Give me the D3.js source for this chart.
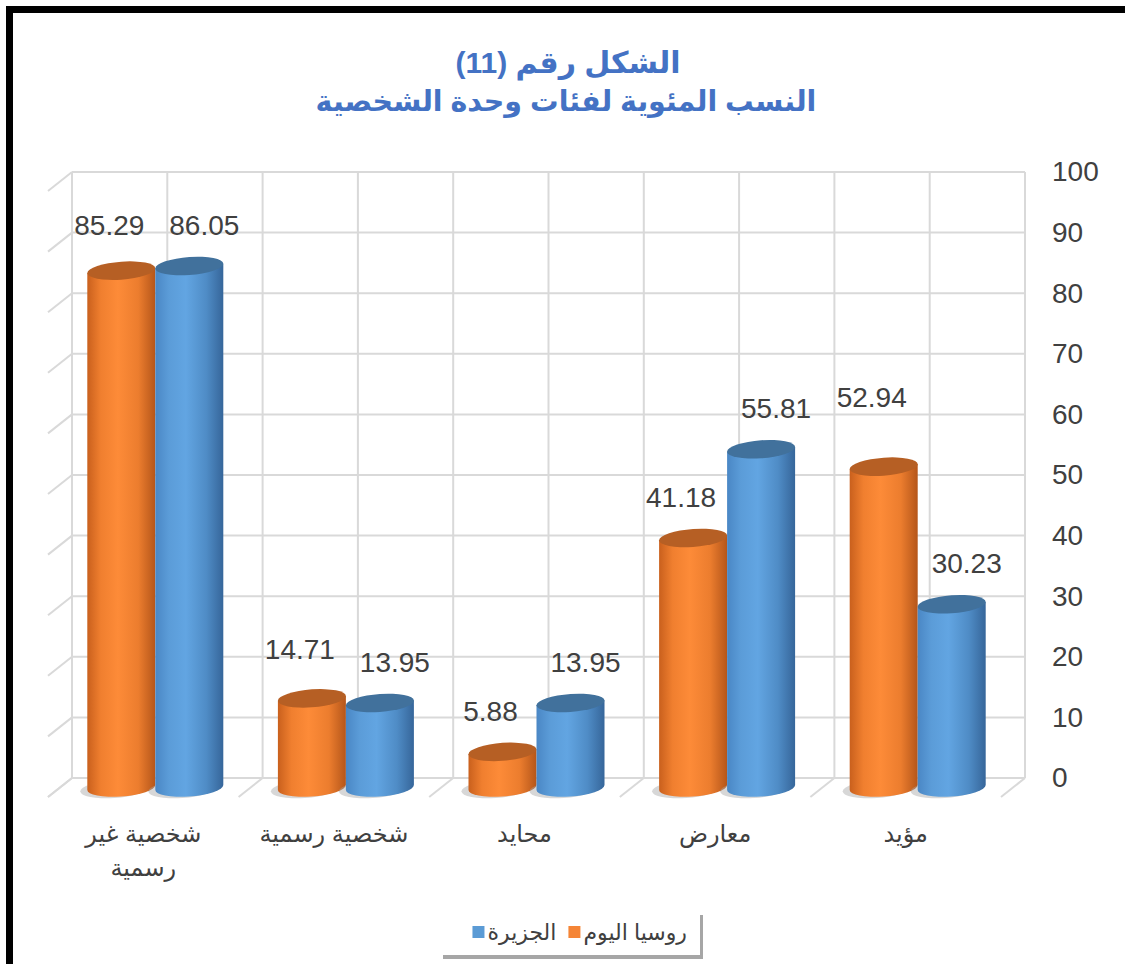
<!DOCTYPE html>
<html>
<head>
<meta charset="utf-8">
<title>الشكل رقم (11)</title>
<script src="https://cdn.jsdelivr.net/npm/d3@7/dist/d3.min.js"></script>
<style>
  body { margin:0; background:#fff; }
  text { font-family: "Liberation Sans", Arial, "DejaVu Sans", sans-serif; }
</style>
</head>
<body>
<script>
// data
var categories = ["مؤيد", "معارض", "محايد", "شخصية رسمية", "شخصية غير رسمية"]
var seriesNames = ["روسيا اليوم", "الجزيرة"]
var rtValues = [52.94, 41.18, 5.88, 14.71, 85.29]   // روسيا اليوم
var jzValues = [30.23, 55.81, 13.95, 13.95, 86.05]  // الجزيرة
var yTicks = [0, 10, 20, 30, 40, 50, 60, 70, 80, 90, 100]

var colors = [
  {name: "orange", side: ["#c9601d", "#f07f2f", "#fd8b38", "#ec7d2e", "#b5561a"], top: "#b65f24", key: "#f58536"},
  {name: "blue", side: ["#4a87c5", "#5b9cd8", "#62a5e2", "#4f8cc6", "#36669a"], top: "#41719c", key: "#5b9bd5"}
]
// extra lift for a few value labels (px), to match where the original put them
var labelLift = [[29, 0], [0, 0], [0, 0], [8, 0], [5, 0]]

var W = 1125, H = 964
var svg = d3.select("body").append("svg").attr("width", W).attr("height", H)

// gradients for the cylinders
var defs = svg.append("defs")
colors.forEach(function(c){
  var g = defs.append("linearGradient").attr("id", "g_" + c.name)
    .attr("x1", "0").attr("x2", "1").attr("y1", "0").attr("y2", "0")
  var offs = [0, 0.2, 0.45, 0.75, 1]
  c.side.forEach(function(col, i){
    g.append("stop").attr("offset", offs[i]).attr("stop-color", col)
  })
})

// back wall geometry and the depth vector of the 3d box
var backL = 72, backR = 1025
var depthX = -24, depthY = 19

var x = d3.scaleBand().domain(categories.slice().reverse()).range([backL, backR])
var y = d3.scaleLinear().domain([0, 100]).range([778, 172])
var bw = x.bandwidth()

var grid = svg.append("g").attr("stroke", "#d9d9d9").attr("stroke-width", 2).attr("fill", "none")

// horizontal lines on back wall + side wall diagonals
grid.selectAll(".h").data(yTicks).enter().append("line")
  .attr("x1", backL).attr("x2", backR)
  .attr("y1", function(d){ return y(d) }).attr("y2", function(d){ return y(d) })
grid.selectAll(".s").data(yTicks).enter().append("line")
  .attr("x1", backL + depthX).attr("x2", backL)
  .attr("y1", function(d){ return y(d) + depthY }).attr("y2", function(d){ return y(d) })

// vertical lines on back wall (boundaries and middles)
var vx = d3.range(0, categories.length * 2 + 1).map(function(k){ return backL + k * bw / 2 })
grid.selectAll(".v").data(vx).enter().append("line")
  .attr("x1", function(d){ return d }).attr("x2", function(d){ return d })
  .attr("y1", y(100)).attr("y2", y(0))

// floor diagonals at category boundaries
var bx = d3.range(0, categories.length + 1).map(function(k){ return backL + k * bw })
grid.selectAll(".f").data(bx).enter().append("line")
  .attr("x1", function(d){ return d + depthX }).attr("x2", function(d){ return d })
  .attr("y1", y(0) + depthY).attr("y2", y(0))

// y axis on the right
var yAxis = d3.axisRight(y).tickValues(yTicks).tickSize(0).tickPadding(0)
var ya = svg.append("g").attr("transform", "translate(1052,0)").call(yAxis)
ya.select(".domain").remove()
ya.selectAll("text").attr("font-size", 28).attr("fill", "#404040")
  .style("font-family", "'Liberation Sans', Arial, sans-serif")

// bars: cylinders standing half way into the box
var rx = 34, ry = 9
var midX = depthX / 2, midY = depthY / 2
var yb = y(0) + midY

var bars = []
categories.forEach(function(c, i){
  var cx = x(c) + bw / 2 + midX
  ;[rtValues[i], jzValues[i]].forEach(function(v, s){
    bars.push({cat: c, i: i, s: s, v: v, cx: cx + (s === 0 ? -rx : rx)})
  })
})

var barG = svg.append("g")
bars.forEach(function(b){
  var yt = y(b.v) + midY
  var c = colors[b.s]
  var g = barG.append("g").attr("transform", "translate(" + b.cx + ",0) skewY(-4)")
  g.append("ellipse").attr("cx", -7).attr("cy", yb + 1).attr("rx", rx).attr("ry", ry)
    .attr("fill", "#a6a6a6").attr("opacity", 0.45)
  g.append("path")
    .attr("d", "M" + (-rx) + "," + yt + " L" + (-rx) + "," + yb +
      " A" + rx + " " + ry + " 0 0 0 " + rx + "," + yb + " L" + rx + "," + yt + " Z")
    .attr("fill", "url(#g_" + c.name + ")")
  g.append("ellipse").attr("cx", 0).attr("cy", yt).attr("rx", rx).attr("ry", ry)
    .attr("fill", c.top)
})

// value labels
svg.append("g").selectAll("text").data(bars).enter().append("text")
  .attr("x", function(d){ return d.cx + (d.s === 0 ? -12 : 15) })
  .attr("y", function(d){ return y(d.v) + midY - ry - 22 - labelLift[d.i][d.s] })
  .attr("text-anchor", "middle")
  .attr("font-size", 28).attr("fill", "#404040")
  .text(function(d){ return d3.format(".2f")(d.v) })

// category labels, wrapped
var catG = svg.append("g")
categories.forEach(function(c){
  var t = catG.append("text")
    .attr("x", x(c) + bw / 2 + depthX).attr("y", 842)
    .attr("text-anchor", "middle").attr("direction", "rtl")
    .attr("font-size", 24).attr("fill", "#404040")
  var words = c.split(" "), line = [], lines = []
  var probe = t.append("tspan")
  words.forEach(function(w){
    line.push(w)
    probe.text(line.join(" "))
    if (probe.node().getComputedTextLength() > 155 && line.length > 1) {
      line.pop(); lines.push(line.join(" ")); line = [w]
    }
  })
  lines.push(line.join(" "))
  probe.remove()
  lines.forEach(function(l, k){
    t.append("tspan").attr("x", x(c) + bw / 2 + depthX).attr("dy", k === 0 ? 0 : 34).text(l)
  })
})

// legend with drop shadow
var lg = svg.append("g")
lg.append("rect").attr("x", 443).attr("y", 915).attr("width", 260).attr("height", 44).attr("fill", "#a6a6a6")
lg.append("rect").attr("x", 440).attr("y", 911).attr("width", 260).attr("height", 44).attr("fill", "#fff")
var lx = 687
seriesNames.forEach(function(n, s){
  var t = lg.append("text").attr("x", lx).attr("y", 940).attr("text-anchor", "end")
    .attr("direction", "ltr").attr("font-size", 22).attr("fill", "#404040").text(n)
  var w = t.node().getComputedTextLength()
  lg.append("rect").attr("x", lx - w - 15).attr("y", 926).attr("width", 12).attr("height", 12)
    .attr("fill", colors[s].key)
  lx = lx - w - 15 - 12
})

// title
var title = svg.append("g").attr("fill", "#4472c4").attr("font-weight", "bold").attr("text-anchor", "middle")
title.append("text").attr("x", 568).attr("y", 73).attr("font-size", 30).attr("direction", "rtl").text("الشكل رقم (11)")
title.append("text").attr("x", 566).attr("y", 111).attr("font-size", 28.5).attr("direction", "rtl").text("النسب المئوية لفئات وحدة الشخصية")

// black frame (only top and left show in the picture)
svg.append("rect").attr("x", 9.5).attr("y", 9.5).attr("width", W + 50).attr("height", H + 50)
  .attr("fill", "none").attr("stroke", "#000").attr("stroke-width", 7)
</script>
</body>
</html>
